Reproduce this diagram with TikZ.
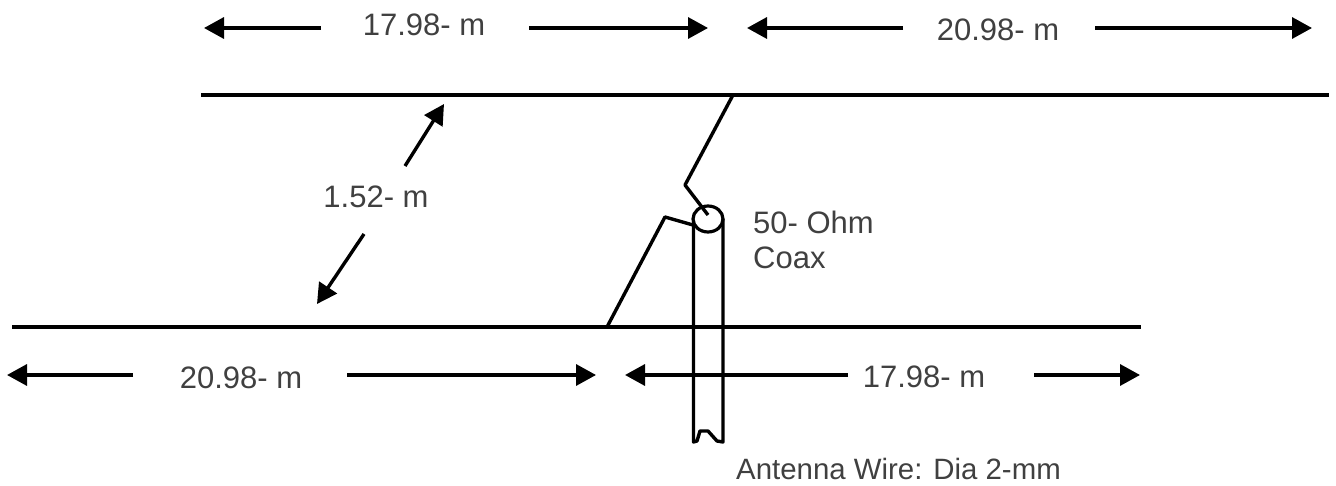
\documentclass[tikz,border=0pt]{standalone}
\usepackage{fontspec}
\setmainfont{Liberation Sans}
\usetikzlibrary{arrows.meta,shapes.geometric}
\tikzset{
  wire/.style={line width=3.6pt,black},
  feed/.style={line width=3.4pt,black,line join=round},
  dim/.style={line width=3.4pt,black,-{Triangle[length=20pt,width=21pt]}},
  lab/.style={inner sep=0pt,text=black!75,font=\fontsize{31}{35}\selectfont},
  labsmall/.style={lab,font=\fontsize{29.4}{34}\selectfont},
  coaxend/.style={draw=black,line width=3.2pt,ellipse,minimum width=30pt,minimum height=26pt,inner sep=0pt},
}
\begin{document}
\begin{tikzpicture}[x=1pt,y=-1pt]
\useasboundingbox (0,0) rectangle (1336,486);
% wires
\coordinate (topL) at (201,95);
\coordinate (topR) at (1329,95);
\coordinate (botL) at (12,327);
\coordinate (botR) at (1141,327);
\draw[wire] (topL) -- (topR);
\draw[wire] (botL) -- (botR);
% labels
\node[lab] (t1) at (424,25) {17.98- m};
\node[lab] (t2) at (998,30) {20.98- m};
\node[lab] (t3) at (241,378) {20.98- m};
\node[lab] (t4) at (924,377) {17.98- m};
\node[lab] (t5) at (376,197) {1.52- m};
\node[lab,anchor=west] (t6) at (753,222) {50- Ohm};
\node[lab,anchor=west] (t7) at (753,258) {Coax};
\node[labsmall,anchor=west] (t8) at (736,469) {Antenna Wire: Dia 2-mm};
% dimension arrows
\coordinate (a1s) at (321,28); \coordinate (a1e) at (204,28);
\coordinate (a2s) at (529,28); \coordinate (a2e) at (708,28);
\coordinate (a3s) at (903,28); \coordinate (a3e) at (747,28);
\coordinate (a4s) at (1095,28); \coordinate (a4e) at (1312,28);
\coordinate (a5s) at (133,375); \coordinate (a5e) at (7,375);
\coordinate (a6s) at (347,375); \coordinate (a6e) at (596,375);
\coordinate (a7s) at (848,375); \coordinate (a7e) at (625,375);
\coordinate (a8s) at (1034,375); \coordinate (a8e) at (1140,375);
\coordinate (a9s) at (405,166); \coordinate (a9e) at (444,104);
\coordinate (a10s) at (364,234); \coordinate (a10e) at (317,304);
\foreach \i in {1,...,10} \draw[dim] (a\i s) -- (a\i e);
% coax
\node[coaxend] (coax) at (708,219) {};
\coordinate (cLt) at (693.5,221); \coordinate (cLb) at (693.5,442);
\coordinate (cRt) at (723,219); \coordinate (cRb) at (723,442);
\coordinate (n1) at (697,441); \coordinate (n2) at (700,431);
\coordinate (n3) at (708,431); \coordinate (n4) at (717,441);
\draw[feed] (cLt) -- (cLb) -- (n1) -- (n2) -- (n3) -- (n4) -- (cRb) -- (cRt);
% feed lines
\coordinate (f1) at (733,95); \coordinate (f2) at (685,185); \coordinate (f3) at (708,215);
\draw[feed] (f1) -- (f2) -- (f3);
\coordinate (g1) at (607,327); \coordinate (g2) at (665,217); \coordinate (g3) at (693,225);
\draw[feed] (g1) -- (g2) -- (g3);
\end{tikzpicture}
\end{document}
